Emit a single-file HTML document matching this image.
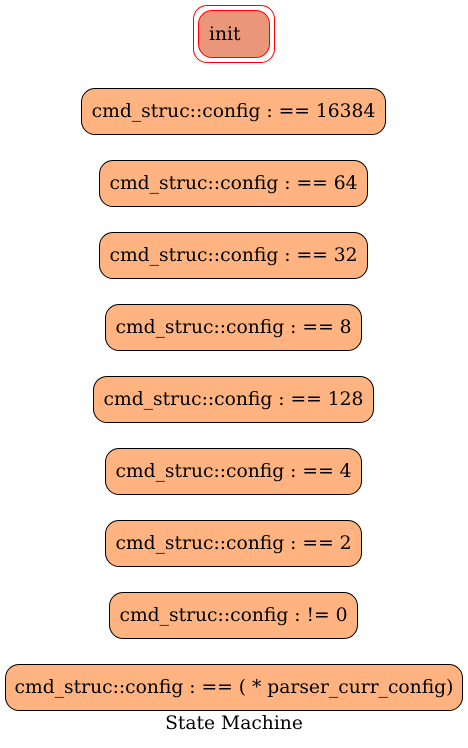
<!DOCTYPE html>
<html><head><style>
body{margin:0;width:468px;height:748px;background:#fff;position:relative;font-family:"DejaVu Serif",serif;overflow:hidden}
.b{position:absolute;box-sizing:border-box;background:#ffb380;border:1px solid #000;border-radius:14px;font-size:18.7px;display:flex;align-items:center;justify-content:center;white-space:nowrap;color:#000}
</style></head><body>
<div style="position:absolute;left:193px;top:5px;width:82px;height:58px;box-sizing:border-box;border:1px solid red;border-radius:14px"></div>
<div class="b" style="left:198px;top:10px;width:72px;height:48px;background:#e9967a;border-color:red;border-width:1.5px;justify-content:flex-start;padding-left:10px">init</div>
<div class="b" style="left:81px;top:88px;width:305px;height:47px">cmd_struc::config : == 16384</div>
<div class="b" style="left:99px;top:160px;width:269px;height:47px">cmd_struc::config : == 64</div>
<div class="b" style="left:99px;top:232px;width:269px;height:47px">cmd_struc::config : == 32</div>
<div class="b" style="left:105px;top:304px;width:257px;height:47px">cmd_struc::config : == 8</div>
<div class="b" style="left:93px;top:376px;width:281px;height:47px">cmd_struc::config : == 128</div>
<div class="b" style="left:105px;top:448px;width:257px;height:47px">cmd_struc::config : == 4</div>
<div class="b" style="left:105px;top:520px;width:257px;height:47px">cmd_struc::config : == 2</div>
<div class="b" style="left:109px;top:592px;width:249px;height:47px">cmd_struc::config : != 0</div>
<div class="b" style="left:5px;top:664px;width:458px;height:47px">cmd_struc::config : == ( * parser_curr_config)</div>
<div style="position:absolute;left:0;width:468px;top:713px;text-align:center;font-size:18.7px">State Machine</div>
</body></html>
